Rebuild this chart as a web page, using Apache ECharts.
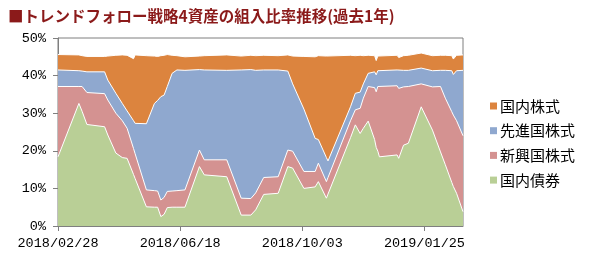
<!DOCTYPE html>
<html>
<head>
<meta charset="utf-8">
<script src="https://cdn.jsdelivr.net/npm/echarts@6/dist/echarts.min.js"></script>
<style>html,body{margin:0;padding:0;background:#fff}#c{width:600px;height:266px}</style>
</head>
<body>
<div id="c"></div>
<script>
// trading-day index (0 = 2018/02/28)
const dayIndex = [0,13,15,18,29,31,36,40,43,47,48,55,60,62,64,66,68,71,74,79,88,91,105,114,120,123,128,137,143,146,153,160,162,167,168,182,185,188,190,193,197,198,199,200,211,212,215,218,226,233,238,241,245,246,248,252];
const domesticBond = [18.4,32.6,30.5,27.0,26.4,24.2,19.4,18.2,18.0,13.7,12.6,5.1,5.0,5.0,2.5,3.1,4.9,5.0,5.0,5.0,15.8,13.6,13.1,2.9,2.9,4.3,8.4,8.7,15.8,15.4,10.0,10.4,11.8,7.4,8.5,23.5,26.9,24.6,26.0,27.9,23.0,20.9,19.9,18.4,18.9,18.0,21.5,22.0,31.7,25.5,19.7,16.3,11.6,10.5,8.7,3.8];
const emergingEq = [18.7,4.5,6.6,8.5,8.8,9.3,10.6,9.8,8.0,6.9,6.6,4.5,4.4,4.3,4.4,4.5,4.3,4.3,4.4,4.6,4.4,4.0,4.5,4.5,4.4,4.5,4.5,4.4,4.4,4.5,4.5,4.1,4.9,4.4,4.4,4.5,4.0,6.7,8.0,9.2,13.8,14.8,17.2,18.7,18.4,18.6,15.5,15.1,6.1,11.5,17.4,17.7,18.8,19.0,19.3,20.2];
const developedEq = [4.4,4.2,4.1,5.5,5.8,5.3,5.3,4.6,4.6,7.4,8.1,17.6,23.2,24.1,27.5,27.2,27.9,31.3,32.1,31.8,21.4,23.9,23.8,34.1,34.3,32.6,28.6,28.4,21.0,17.9,16.6,8.8,6.3,6.4,4.4,3.7,4.4,4.3,3.8,3.5,4.2,4.5,4.2,4.2,4.2,4.4,4.4,4.3,4.2,4.3,4.3,7.4,10.9,10.8,13.3,17.4];
const domesticEq = [4.1,4.2,4.1,4.1,4.1,6.4,10.1,12.9,14.8,16.5,18.2,18.1,12.6,11.7,10.9,10.6,8.5,4.8,3.8,3.6,3.6,3.8,4.1,3.7,3.8,3.9,3.9,3.8,4.3,7.4,14.0,21.7,22.3,27.0,28.3,13.7,10.0,9.8,7.5,4.8,4.3,3.8,3.9,4.0,3.9,3.8,3.9,4.0,4.0,4.0,4.0,4.0,4.0,4.1,4.1,4.1];
const tickIndex = [0,76,152,228];
const tickLabels = ['2018/02/28','2018/06/18','2018/10/03','2019/01/25'];
const seriesNames = ['国内債券','新興国株式','先進国株式','国内株式'];
const legendOrder = ['国内株式','先進国株式','新興国株式','国内債券'];
const titleText = '■トレンドフォロー戦略4資産の組入比率推移(過去1年)';

const colors = ['#B9CF96','#D49291','#8FA8CF','#DC843E'];
const values = [domesticBond, emergingEq, developedEq, domesticEq];
const jp = '"Noto Sans CJK JP", sans-serif';
const mono = '"Liberation Mono", "DejaVu Sans Mono", monospace';

// cumulative (stacked) tops built from the series arrays
const cumulative = values.map((arr,k)=>arr.map((_,i)=>{let s=0;for(let j=0;j<=k;j++)s+=values[j][i];return Math.round(s*100)/100;}));

const chart = echarts.init(document.getElementById('c'), null, {renderer:'canvas'});
chart.setOption({
  animation:false,
  backgroundColor:'#fff',
  title:{text:titleText,left:3,top:3,textStyle:{color:'#8B1A1A',fontSize:15.5,fontWeight:'bold',fontFamily:jp}},
  grid:{left:58,right:137,top:38,bottom:40,show:true,borderColor:'#7f7f7f',borderWidth:1},
  legend:{orient:'vertical',left:485,top:93,icon:'rect',itemWidth:7,itemHeight:7,itemGap:8.7,
    data:legendOrder,textStyle:{fontSize:15,fontFamily:jp,color:'#000',lineHeight:16,padding:[0,0,0,-2]}},
  xAxis:{type:'value',min:0,max:252,interval:76,
    axisLine:{lineStyle:{color:'#7f7f7f'}},
    axisTick:{show:true,length:5,lineStyle:{color:'#7f7f7f'},customValues:tickIndex},
    splitLine:{show:false},
    axisLabel:{customValues:tickIndex,margin:10,color:'#000',fontSize:13.5,fontFamily:mono,
      formatter:v=>{const i=tickIndex.indexOf(v);return i>=0?tickLabels[i]:'';}}},
  yAxis:{type:'value',min:0,max:50,interval:10,
    axisLine:{show:true,lineStyle:{color:'#7f7f7f'}},
    axisTick:{show:true,length:5,lineStyle:{color:'#7f7f7f'}},
    splitLine:{show:false},
    axisLabel:{formatter:'{value}%',margin:12,color:'#000',fontSize:13.5,fontFamily:mono}},
  series: seriesNames.map((n,k)=>({
    name:n,type:'line',symbol:'none',z:10-k,
    color:colors[k],
    lineStyle:{color:'#fff',width:1},
    areaStyle:{color:colors[k],opacity:1,origin:'start'},
    data:dayIndex.map((d,i)=>[d,cumulative[k][i]])
  }))
});
</script>
</body>
</html>
